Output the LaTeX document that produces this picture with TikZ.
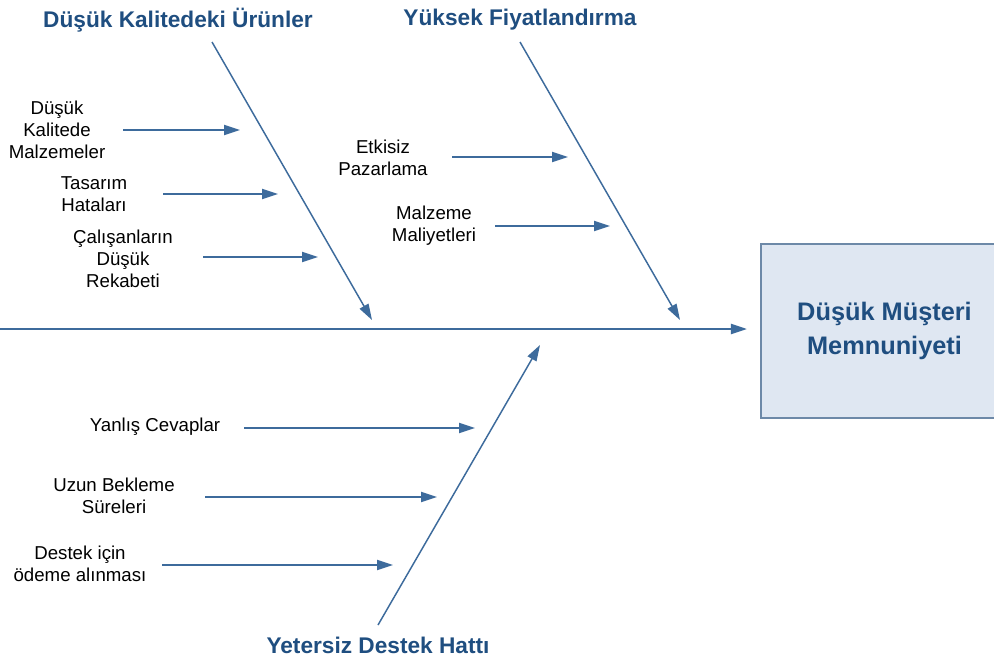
\documentclass[tikz,border=0pt]{standalone}
\usepackage{fontspec}
\setmainfont{Liberation Sans}
\usetikzlibrary{arrows.meta}

\definecolor{fishblue}{HTML}{3D6B9C}
\definecolor{headblue}{HTML}{1F4E80}
\definecolor{boxfill}{HTML}{DFE7F2}
\definecolor{boxline}{HTML}{6D89A8}

\tikzset{
  cause/.style={align=center, inner sep=0pt, font=\fontsize{14}{16.5}\selectfont},
  bonetitle/.style={inner sep=0pt, text=headblue, font=\fontsize{17}{19}\selectfont\bfseries},
  arr/.style={fishblue, line width=1.4pt, -{Triangle[length=12pt,width=7.5pt]}},
  bone/.style={fishblue, line width=1.1pt, -{Triangle[length=12pt,width=7.5pt]}},
}

\begin{document}
\begin{tikzpicture}[x=0.75pt,y=-0.75pt]
\clip (0,0) rectangle (994,663);
\fill[white] (0,0) rectangle (994,663);

% head of the fish
\node[draw=boxline, fill=boxfill, line width=1.3pt, align=center, text=headblue,
  minimum width=185pt, minimum height=130.5pt,
  font=\fontsize{19}{25.5}\selectfont\bfseries] (effect) at (884.5,331)
  {Düşük Müşteri\\Memnuniyeti};

% spine
\coordinate (tail) at (-5,329);
\draw[fishblue, line width=1.6pt, -{Triangle[length=12pt,width=7.5pt]}]
  (tail) -- ([xshift=-10pt]effect.west |- tail);

% main bones
\node[bonetitle] (quality) at (178,20) {Düşük Kalitedeki Ürünler};
\node[bonetitle] (price) at (520,20) {Yüksek Fiyatlandırma};
\node[bonetitle] (support) at (378,645) {Yetersiz Destek Hattı};

\coordinate (q0) at (212,42);  \coordinate (q1) at (372,320);
\coordinate (p0) at (520,42);  \coordinate (p1) at (680,320);
\coordinate (d0) at (378,625); \coordinate (d1) at (540,345);
\draw[bone] (q0) -- (q1);
\draw[bone] (p0) -- (p1);
\draw[bone] (d0) -- (d1);

% causes
\node[cause] (c1) at (57,130) {Düşük\\Kalitede\\Malzemeler};
\node[cause] (c2) at (94,194) {Tasarım\\Hataları};
\node[cause] (c3) at (123,259) {Çalışanların\\Düşük\\Rekabeti};
\node[cause] (c4) at (383,158) {Etkisiz\\Pazarlama};
\node[cause] (c5) at (434,226) {Malzeme\\Maliyetleri};
\node[cause] (c6) at (155,427) {Yanlış Cevaplar};
\node[cause] (c7) at (114,496) {Uzun Bekleme\\Süreleri};
\node[cause] (c8) at (80,564) {Destek için\\ödeme alınması};

\foreach \i/\xs/\xt/\y in {1/123/240/130, 2/163/278/194, 3/203/318/257,
    4/452/568/157, 5/495/610/226, 6/244/475/428, 7/205/437/497, 8/162/393/565}
{
  \coordinate (s\i) at (\xs,\y);
  \coordinate (t\i) at (\xt,\y);
  \draw[arr] (s\i) -- (t\i);
}
\end{tikzpicture}
\end{document}
